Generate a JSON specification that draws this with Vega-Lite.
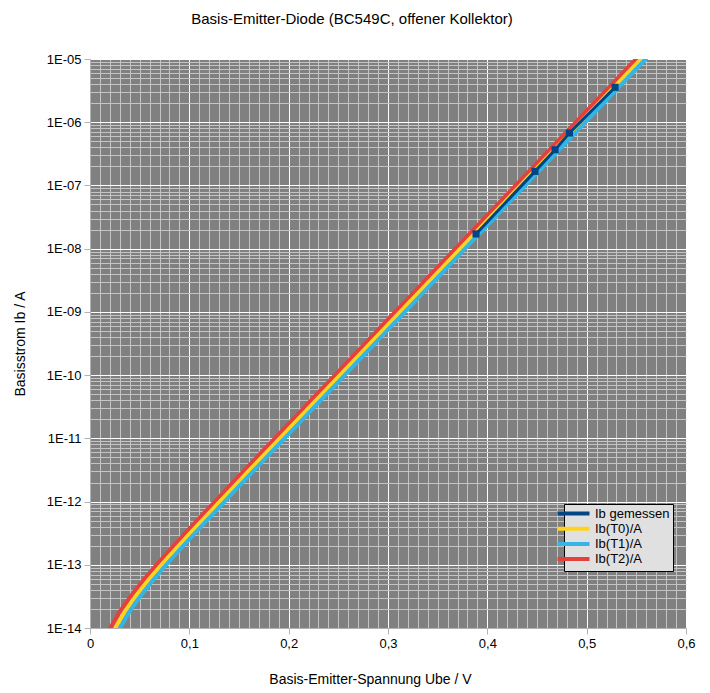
{
  "$schema": "https://vega.github.io/schema/vega-lite/v6.json",
  "width": 596,
  "height": 569,
  "autosize": "none",
  "padding": {"left": 90, "top": 59, "right": 24, "bottom": 65},
  "background": "white",
  "config": {
    "view": {"stroke": null, "fill": "#808080"},
    "font": "Liberation Sans"
  },
  "title": {
    "text": "Basis-Emitter-Diode (BC549C, offener Kollektor)",
    "font": "Liberation Sans",
    "fontSize": 15,
    "fontWeight": "normal",
    "color": "#000000",
    "anchor": "middle",
    "frame": "group",
    "dx": -36,
    "offset": 26
  },
  "datasets": {
    "curves": [
      {"series": "Ib(T2)/A", "U": 0.0083, "I": 3.162e-15},
      {"series": "Ib(T2)/A", "U": 0.0134, "I": 5.623e-15},
      {"series": "Ib(T2)/A", "U": 0.0205, "I": 1e-14},
      {"series": "Ib(T2)/A", "U": 0.0297, "I": 1.778e-14},
      {"series": "Ib(T2)/A", "U": 0.0408, "I": 3.162e-14},
      {"series": "Ib(T2)/A", "U": 0.0534, "I": 5.623e-14},
      {"series": "Ib(T2)/A", "U": 0.0670, "I": 1e-13},
      {"series": "Ib(T2)/A", "U": 0.0812, "I": 1.778e-13},
      {"series": "Ib(T2)/A", "U": 0.0959, "I": 3.162e-13},
      {"series": "Ib(T2)/A", "U": 0.1257, "I": 1e-12},
      {"series": "Ib(T2)/A", "U": 0.1558, "I": 3.162e-12},
      {"series": "Ib(T2)/A", "U": 0.1861, "I": 1e-11},
      {"series": "Ib(T2)/A", "U": 0.2467, "I": 1e-10},
      {"series": "Ib(T2)/A", "U": 0.3073, "I": 1e-9},
      {"series": "Ib(T2)/A", "U": 0.3679, "I": 1e-8},
      {"series": "Ib(T2)/A", "U": 0.4285, "I": 1e-7},
      {"series": "Ib(T2)/A", "U": 0.4891, "I": 1e-6},
      {"series": "Ib(T2)/A", "U": 0.5497, "I": 1e-5},
      {"series": "Ib(T2)/A", "U": 0.5618, "I": 1.585e-5},
      {"series": "Ib(T0)/A", "U": 0.0133, "I": 3.162e-15},
      {"series": "Ib(T0)/A", "U": 0.0184, "I": 5.623e-15},
      {"series": "Ib(T0)/A", "U": 0.0255, "I": 1e-14},
      {"series": "Ib(T0)/A", "U": 0.0347, "I": 1.778e-14},
      {"series": "Ib(T0)/A", "U": 0.0458, "I": 3.162e-14},
      {"series": "Ib(T0)/A", "U": 0.0584, "I": 5.623e-14},
      {"series": "Ib(T0)/A", "U": 0.0720, "I": 1e-13},
      {"series": "Ib(T0)/A", "U": 0.0862, "I": 1.778e-13},
      {"series": "Ib(T0)/A", "U": 0.1009, "I": 3.162e-13},
      {"series": "Ib(T0)/A", "U": 0.1307, "I": 1e-12},
      {"series": "Ib(T0)/A", "U": 0.1608, "I": 3.162e-12},
      {"series": "Ib(T0)/A", "U": 0.1911, "I": 1e-11},
      {"series": "Ib(T0)/A", "U": 0.2517, "I": 1e-10},
      {"series": "Ib(T0)/A", "U": 0.3123, "I": 1e-9},
      {"series": "Ib(T0)/A", "U": 0.3729, "I": 1e-8},
      {"series": "Ib(T0)/A", "U": 0.4335, "I": 1e-7},
      {"series": "Ib(T0)/A", "U": 0.4941, "I": 1e-6},
      {"series": "Ib(T0)/A", "U": 0.5547, "I": 1e-5},
      {"series": "Ib(T0)/A", "U": 0.5668, "I": 1.585e-5},
      {"series": "Ib(T1)/A", "U": 0.0180, "I": 3.162e-15},
      {"series": "Ib(T1)/A", "U": 0.0231, "I": 5.623e-15},
      {"series": "Ib(T1)/A", "U": 0.0302, "I": 1e-14},
      {"series": "Ib(T1)/A", "U": 0.0394, "I": 1.778e-14},
      {"series": "Ib(T1)/A", "U": 0.0505, "I": 3.162e-14},
      {"series": "Ib(T1)/A", "U": 0.0631, "I": 5.623e-14},
      {"series": "Ib(T1)/A", "U": 0.0767, "I": 1e-13},
      {"series": "Ib(T1)/A", "U": 0.0909, "I": 1.778e-13},
      {"series": "Ib(T1)/A", "U": 0.1056, "I": 3.162e-13},
      {"series": "Ib(T1)/A", "U": 0.1354, "I": 1e-12},
      {"series": "Ib(T1)/A", "U": 0.1655, "I": 3.162e-12},
      {"series": "Ib(T1)/A", "U": 0.1958, "I": 1e-11},
      {"series": "Ib(T1)/A", "U": 0.2564, "I": 1e-10},
      {"series": "Ib(T1)/A", "U": 0.3170, "I": 1e-9},
      {"series": "Ib(T1)/A", "U": 0.3776, "I": 1e-8},
      {"series": "Ib(T1)/A", "U": 0.4382, "I": 1e-7},
      {"series": "Ib(T1)/A", "U": 0.4988, "I": 1e-6},
      {"series": "Ib(T1)/A", "U": 0.5594, "I": 1e-5},
      {"series": "Ib(T1)/A", "U": 0.5715, "I": 1.585e-5},
      {"series": "Ib gemessen", "U": 0.3886, "I": 1.71e-8},
      {"series": "Ib gemessen", "U": 0.4480, "I": 1.67e-7},
      {"series": "Ib gemessen", "U": 0.4682, "I": 3.67e-7},
      {"series": "Ib gemessen", "U": 0.4827, "I": 6.75e-7},
      {"series": "Ib gemessen", "U": 0.5286, "I": 3.57e-6}
    ]
  },
  "data": {"name": "curves"},
  "resolve": {"axis": {"x": "independent", "y": "independent"}},
  "layer": [
    {
      "transform": [{"filter": "datum.series != 'Ib gemessen'"}],
      "mark": {"type": "line", "strokeWidth": 4, "clip": true},
      "encoding": {
        "x": {
          "field": "U", "type": "quantitative",
          "scale": {"domain": [0, 0.6], "nice": false, "zero": false},
          "axis": {
            "orient": "bottom", "title": null, "labels": false, "ticks": false, "domain": false,
            "grid": true, "gridColor": "#c4c4c4", "gridWidth": 1, "gridOpacity": 1,
            "values": [0.01,0.02,0.03,0.04,0.05,0.06,0.07,0.08,0.09,0.11,0.12,0.13,0.14,0.15,0.16,0.17,0.18,0.19,0.21,0.22,0.23,0.24,0.25,0.26,0.27,0.28,0.29,0.31,0.32,0.33,0.34,0.35,0.36,0.37,0.38,0.39,0.41,0.42,0.43,0.44,0.45,0.46,0.47,0.48,0.49,0.51,0.52,0.53,0.54,0.55,0.56,0.57,0.58,0.59]
          }
        },
        "y": {
          "field": "I", "type": "quantitative",
          "scale": {"type": "log", "domain": [1e-14, 1e-5], "nice": false},
          "axis": {
            "orient": "left", "title": null, "labels": false, "ticks": false, "domain": false,
            "grid": true, "gridColor": "#c4c4c4", "gridWidth": 1, "gridOpacity": 1,
            "values": [2e-14,3e-14,4e-14,5e-14,6e-14,7e-14,8e-14,9e-14,2e-13,3e-13,4e-13,5e-13,6e-13,7e-13,8e-13,9e-13,2e-12,3e-12,4e-12,5e-12,6e-12,7e-12,8e-12,9e-12,2e-11,3e-11,4e-11,5e-11,6e-11,7e-11,8e-11,9e-11,2e-10,3e-10,4e-10,5e-10,6e-10,7e-10,8e-10,9e-10,2e-9,3e-9,4e-9,5e-9,6e-9,7e-9,8e-9,9e-9,2e-8,3e-8,4e-8,5e-8,6e-8,7e-8,8e-8,9e-8,2e-7,3e-7,4e-7,5e-7,6e-7,7e-7,8e-7,9e-7,2e-6,3e-6,4e-6,5e-6,6e-6,7e-6,8e-6,9e-6]
          }
        },
        "color": {
          "field": "series", "type": "nominal",
          "scale": {
            "domain": ["Ib gemessen", "Ib(T0)/A", "Ib(T1)/A", "Ib(T2)/A"],
            "range": ["#004586", "#ffd320", "#33b5e5", "#e6403c"]
          },
          "legend": {
            "title": null,
            "orient": "none",
            "legendX": 474,
            "legendY": 445,
            "direction": "vertical",
            "padding": 3,
            "rowPadding": -1.8,
            "fillColor": "#e0e0e0",
            "strokeColor": "#000000",
            "symbolType": "M-4.57,0H4.57",
            "symbolSize": 49,
            "symbolStrokeWidth": 4,
            "labelOffset": 15,
            "labelFont": "Liberation Sans",
            "labelFontSize": 13,
            "labelColor": "#000000"
          }
        }
      }
    },
    {
      "transform": [{"filter": "datum.series == 'Ib gemessen'"}],
      "mark": {"type": "line", "strokeWidth": 3, "clip": true},
      "encoding": {
        "x": {
          "field": "U", "type": "quantitative",
          "axis": {
            "orient": "bottom",
            "title": "Basis-Emitter-Spannung Ube / V",
            "titleFont": "Liberation Sans", "titleFontSize": 14, "titleFontWeight": "normal", "titleColor": "#000000",
            "titleX": 280, "titleY": 51, "titleBaseline": "middle", "titleAlign": "center",
            "values": [0, 0.1, 0.2, 0.3, 0.4, 0.5, 0.6],
            "labelExpr": "replace(format(datum.value, '.1~f'), '.', ',')",
            "labelFont": "Liberation Sans", "labelFontSize": 13, "labelColor": "#000000",
            "labelPadding": 3, "labelFlush": false,
            "tickColor": "#b3b3b3", "tickSize": 6, "domainColor": "#b3b3b3",
            "grid": true, "gridColor": "#ffffff", "gridWidth": 1, "gridOpacity": 1
          }
        },
        "y": {
          "field": "I", "type": "quantitative",
          "axis": {
            "orient": "left",
            "title": "Basisstrom Ib / A",
            "titleFont": "Liberation Sans", "titleFontSize": 14, "titleFontWeight": "normal", "titleColor": "#000000",
            "titleX": -70, "titleY": 284.5, "titleBaseline": "middle", "titleAlign": "center", "titleAngle": 270,
            "values": [1e-14, 1e-13, 1e-12, 1e-11, 1e-10, 1e-9, 1e-8, 1e-7, 1e-6, 1e-5],
            "labelExpr": "'1E-' + (round(-log(datum.value)/LN10) < 10 ? '0' : '') + round(-log(datum.value)/LN10)",
            "labelFont": "Liberation Sans", "labelFontSize": 13, "labelColor": "#000000",
            "labelPadding": 3, "labelFlush": false,
            "tickColor": "#b3b3b3", "tickSize": 6, "domainColor": "#b3b3b3",
            "grid": true, "gridColor": "#ffffff", "gridWidth": 1, "gridOpacity": 1
          }
        },
        "color": {"field": "series", "type": "nominal"}
      }
    },
    {
      "transform": [{"filter": "datum.series == 'Ib gemessen'"}],
      "mark": {"type": "square", "size": 50, "opacity": 1, "filled": true, "clip": true},
      "encoding": {
        "x": {"field": "U", "type": "quantitative", "axis": null},
        "y": {"field": "I", "type": "quantitative", "axis": null},
        "color": {"field": "series", "type": "nominal"}
      }
    }
  ]
}
